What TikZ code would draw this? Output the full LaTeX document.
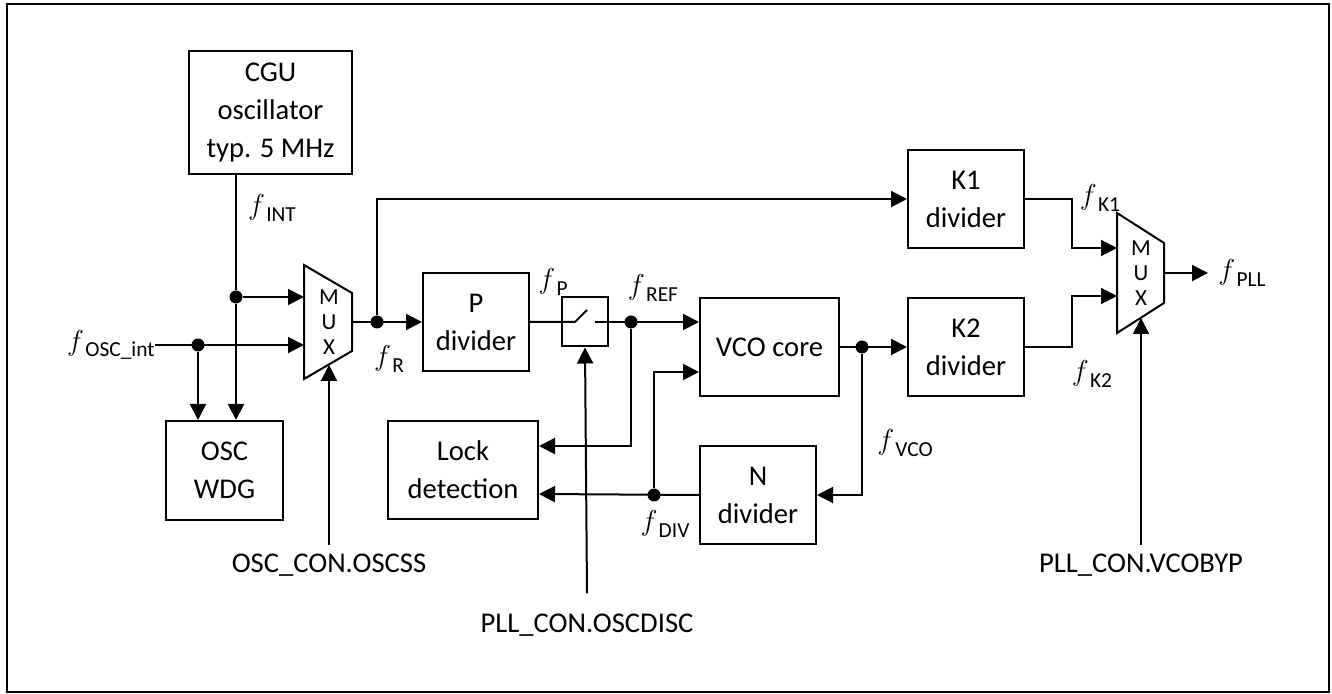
\documentclass[tikz,border=0pt]{standalone}
\usepackage{fontspec}
\setmainfont{Carlito}
\usetikzlibrary{positioning,arrows.meta}

% signal name: italic f with lowered index
\newcommand{\fsig}[1]{{\fontsize{15}{15}\selectfont$f$}\kern0.6pt\raisebox{-0.7ex}{\fontsize{10.7}{11}\selectfont #1}}

\begin{document}
\begin{tikzpicture}[
  x=0.5pt, y=-0.5pt,
  box/.style={draw, line width=1pt, align=center, inner sep=0pt,
              font=\fontsize{14.3}{19}\selectfont},
  arr/.style={-{Triangle[length=8pt,width=8pt]}, line width=1pt},
  wire/.style={line width=1pt},
  dot/.style={circle, fill, inner sep=0pt, minimum size=6.5pt},
  fl/.style={inner sep=0pt},
  ctl/.style={inner sep=4pt, font=\fontsize{14.3}{16}\selectfont},
  muxtxt/.style={align=center, inner sep=0pt, font=\fontsize{11.5}{12.5}\selectfont}
]
\useasboundingbox (0,0) rectangle (1332,694);
\draw[line width=0.6pt] (7,4) rectangle (1329,692);

% blocks
\node[box, minimum width=81.5pt, minimum height=61.5pt] (cgu) at (270.5,112.5) {CGU\\oscillator\\typ. 5 MHz};
\node[box, minimum width=58.5pt, minimum height=49.5pt] (wdg) at (224.5,470.5) {OSC\\WDG};
\node[box, minimum width=53pt, minimum height=49pt] (pdiv) at (476,322) {P\\divider};
\node[box, minimum width=23pt, minimum height=24.5pt] (sw) at (585,322) {};
\node[box, minimum width=69.5pt, minimum height=49pt] (vco) at (769.5,347) {VCO core};
\node[box, minimum width=75pt, minimum height=49pt] (lock) at (463,470) {Lock\\detection};
\node[box, minimum width=58pt, minimum height=49pt] (ndiv) at (758,495) {N\\divider};
\node[box, minimum width=58pt, minimum height=49pt] (kone) at (966,199) {K1\\divider};
\node[box, minimum width=58pt, minimum height=49pt] (ktwo) at (966,347) {K2\\divider};

% multiplexers
\draw[wire] (304,265) -- (352,293) -- (352,351) -- (304,379) -- cycle;
\node[muxtxt] (muxa) at (329,322) {M\\U\\X};
\coordinate (muxa-in1) at (304,297);
\coordinate (muxa-in2) at (304,345);
\coordinate (muxa-out) at (352,322);
\coordinate (muxa-sel) at (329,365);
\draw[wire] (1117,213) -- (1164,243) -- (1164,303) -- (1117,333) -- cycle;
\node[muxtxt] (muxb) at (1141,273) {M\\U\\X};
\coordinate (muxb-in1) at (1117,248);
\coordinate (muxb-in2) at (1117,296);
\coordinate (muxb-out) at (1164,273);
\coordinate (muxb-sel) at (1141,318);

% junctions
\node[dot] (dint) at (236,297) {};
\node[dot] (dosc) at (198,345) {};
\node[dot] (dr) at (377,322) {};
\node[dot] (dref) at (631,322) {};
\node[dot] (dvco) at (862,347) {};
\node[dot] (ddiv) at (654,495) {};
\coordinate (oscin) at (155,345);
\coordinate (pllout) at (1208,273);

% signal labels
\node[fl, anchor=east] (losc) at (oscin) {\fsig{OSC\_int}};
\node[fl] (lint) at (272,208) {\fsig{INT}};
\node[fl] (lr) at (389,359) {\fsig{R}};
\node[fl] (lp) at (553,282) {\fsig{P}};
\node[fl] (lref) at (653,288) {\fsig{REF}};
\node[fl] (lkone) at (1100,198) {\fsig{K1}};
\node[fl] (lktwo) at (1092,374) {\fsig{K2}};
\node[fl] (lvco) at (905,443) {\fsig{VCO}};
\node[fl] (ldiv) at (665,524) {\fsig{DIV}};
\node[fl, anchor=west] (lpll) at ([xshift=5pt]pllout) {\fsig{PLL}};

% control inputs
\node[ctl] (lsel) at (329,565) {OSC\_CON.OSCSS};
\node[ctl] (ldisc) at (587,625) {PLL\_CON.OSCDISC};
\node[ctl] (lbyp) at (1141,565) {PLL\_CON.VCOBYP};

% connections
\draw[arr] (cgu.south -| dint) -- (dint) -- (dint |- wdg.north);
\draw[arr] (dint) -- (muxa-in1);
\draw[arr] (oscin) -- (muxa-in2);
\draw[arr] (dosc) -- (dosc |- wdg.north);
\draw[arr] (muxa-out) -- (pdiv.west);
\draw[arr] (dr) |- (kone.west);
\draw[wire] (pdiv.east) -- (sw.west) -- ++(14,0) -- ++(12,-12);
\draw[wire] (sw.east) -- ++(-14,0);
\draw[arr] (sw.east) -- (dref -| vco.west);
\draw[arr] (dref) |- ([yshift=12pt]lock.east);
\draw[arr] (vco.east) -- (ktwo.west);
\draw[arr] (dvco) |- (ndiv.east);
\draw[arr] (ndiv.west) -- ([yshift=-12pt]lock.east);
\draw[arr] (ddiv) |- ([yshift=-12.5pt]vco.west);
\draw[arr] (kone.east) -- ++(47,0) |- (muxb-in1);
\draw[arr] (ktwo.east) -- ++(47,0) |- (muxb-in2);
\draw[arr] (muxb-out) -- (pllout);
\draw[arr] (lsel.north) -- (muxa-sel);
\draw[arr] ([yshift=6pt]ldisc.north) -- (sw.south);
\draw[arr] (lbyp.north) -- (muxb-sel);
\end{tikzpicture}
\end{document}
